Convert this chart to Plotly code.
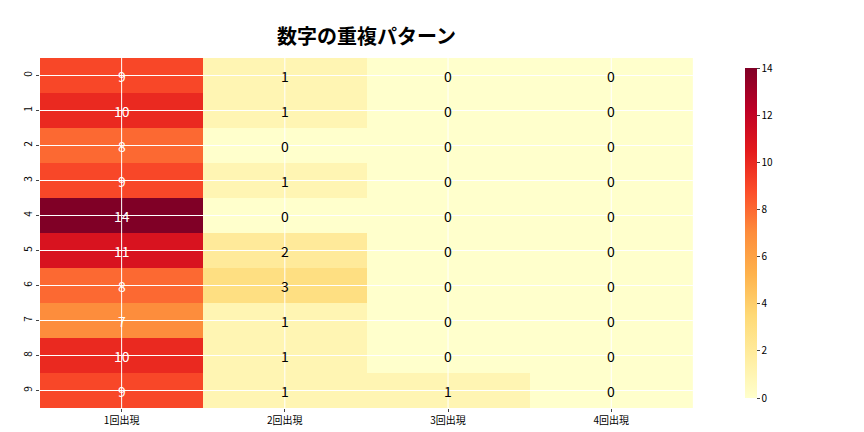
import plotly.graph_objects as go

cols = ["1回出現", "2回出現", "3回出現", "4回出現"]
rows = [str(i) for i in range(10)]
c1 = [9, 10, 8, 9, 14, 11, 8, 7, 10, 9]
c2 = [1, 1, 0, 1, 0, 2, 3, 1, 1, 1]
c3 = [0, 0, 0, 0, 0, 0, 0, 0, 0, 1]
c4 = [0, 0, 0, 0, 0, 0, 0, 0, 0, 0]

z = [[c1[i], c2[i], c3[i], c4[i]] for i in range(10)]
fcol = [["white" if v >= 7 else "black" for v in r] for r in z]

fig = go.Figure(go.Heatmap(
    z=z, x=cols, y=rows, colorscale="YlOrRd", zmin=0, zmax=14,
    colorbar=dict(x=0.99, xanchor="left", thickness=12, len=1, y=0.5, yanchor="middle",
                  outlinewidth=0, tickfont=dict(size=10), tickvals=[0,2,4,6,8,10,12,14],
                  ticks="outside", ticklen=3),
))
for i, r in enumerate(z):
    for j, v in enumerate(r):
        fig.add_annotation(x=cols[j], y=rows[i], text=str(v), showarrow=False,
                           font=dict(size=14, color=fcol[i][j]))
for c in cols:
    fig.add_shape(type="line", xref="x", yref="paper", x0=c, x1=c, y0=0, y1=1,
                  line=dict(color="white", width=1), layer="above")
for r in rows:
    fig.add_shape(type="line", xref="paper", yref="y", x0=0, x1=0.93, y0=r, y1=r,
                  line=dict(color="white", width=1), layer="above")

fig.update_layout(
    width=864, height=432,
    title=dict(text="<b>数字の重複パターン</b>", x=0.415, xanchor="center", y=0.95,
               font=dict(size=20, color="black")),
    font=dict(family="Noto Sans CJK JP, sans-serif", color="black"),
    margin=dict(l=32, r=130, t=50, b=32),
    paper_bgcolor="white", plot_bgcolor="white",
    xaxis=dict(showgrid=False, tickfont=dict(size=10), ticks="outside", ticklen=3),
    yaxis=dict(autorange="reversed", showgrid=False, tickfont=dict(size=10), tickangle=-90,
               ticks="outside", ticklen=3),
)
fig.update_xaxes(domain=[0, 0.93])
fig.write_html("out.html")
